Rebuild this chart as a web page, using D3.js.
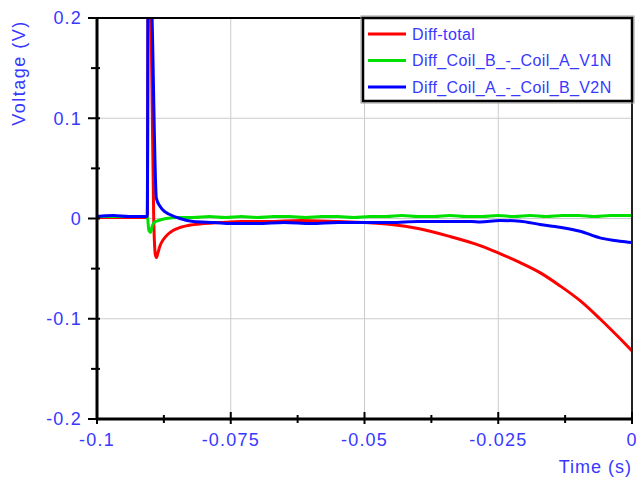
<!DOCTYPE html>
<html>
<head>
<meta charset="utf-8">
<script src="https://cdn.jsdelivr.net/npm/d3@7"></script>
<style>
  body { margin: 0; background: #fff; }
  text { font-family: "Liberation Sans", Arial, sans-serif; fill: #3838ff; }
</style>
</head>
<body>
<div id="chart"></div>
<script>
// Series: [time (s), voltage (V)]
const seriesNames = ['Diff-total', 'Diff_Coil_B_-_Coil_A_V1N', 'Diff_Coil_A_-_Coil_B_V2N'];
const seriesColors = ['#ff0000', '#00e000', '#0000ff'];

const diffTotal = [
  [-0.1, 0.001], [-0.095, 0.001], [-0.0906, 0.001], [-0.0904, 0.3], [-0.0899, 0.2],
  [-0.0894, 0.0], [-0.0891, -0.036], [-0.0889, -0.039], [-0.0886, -0.034],
  [-0.0882, -0.027], [-0.0876, -0.021], [-0.0868, -0.016], [-0.0858, -0.012],
  [-0.0845, -0.009], [-0.083, -0.007], [-0.080, -0.005], [-0.077, -0.004],
  [-0.073, -0.003], [-0.068, -0.003], [-0.062, -0.002], [-0.055, -0.003],
  [-0.050, -0.004], [-0.045, -0.006], [-0.040, -0.010], [-0.034, -0.018],
  [-0.0284, -0.027], [-0.0247, -0.035], [-0.0209, -0.044],
  [-0.0172, -0.054], [-0.0135, -0.067], [-0.0097, -0.082], [-0.0060, -0.100],
  [-0.0022, -0.120], [0, -0.132]
];

const diffV1N = [
  [-0.1, 0.002], [-0.095, 0.002], [-0.0906, 0.002], [-0.0903, -0.012], [-0.0900, -0.014],
  [-0.0897, -0.008], [-0.0893, -0.004], [-0.0885, -0.002], [-0.087, 0.0],
  [-0.085, 0.001], [-0.082, 0.001], [-0.079, 0.002], [-0.076, 0.001], [-0.073, 0.002],
  [-0.070, 0.001], [-0.067, 0.002], [-0.064, 0.002], [-0.061, 0.001], [-0.058, 0.002],
  [-0.055, 0.002], [-0.052, 0.001], [-0.049, 0.002], [-0.046, 0.002], [-0.043, 0.003],
  [-0.040, 0.002], [-0.037, 0.002], [-0.034, 0.003], [-0.031, 0.002], [-0.028, 0.002],
  [-0.025, 0.003], [-0.022, 0.002], [-0.019, 0.003], [-0.016, 0.002], [-0.013, 0.003],
  [-0.010, 0.003], [-0.007, 0.002], [-0.004, 0.003], [-0.002, 0.003], [0, 0.003]
];

const diffV2N = [
  [-0.1, 0.002], [-0.097, 0.003], [-0.094, 0.002], [-0.0906, 0.002], [-0.0904, 0.35],
  [-0.0897, 0.2], [-0.0889, 0.02], [-0.0882, 0.012], [-0.0874, 0.007],
  [-0.0864, 0.004], [-0.0845, 0.0], [-0.082, -0.003], [-0.078, -0.004],
  [-0.075, -0.005], [-0.070, -0.005], [-0.065, -0.004], [-0.060, -0.005],
  [-0.055, -0.004], [-0.050, -0.004], [-0.045, -0.004], [-0.040, -0.003],
  [-0.035, -0.003], [-0.030, -0.003], [-0.0284, -0.0035], [-0.0247, -0.002],
  [-0.0209, -0.0027], [-0.0172, -0.006], [-0.0135, -0.0087], [-0.0097, -0.0127],
  [-0.0060, -0.0193], [-0.0022, -0.0227], [0, -0.024]
];

const seriesData = [diffTotal, diffV1N, diffV2N];

const xTicks = [-0.1, -0.075, -0.05, -0.025, 0];
const xTickLabels = ['-0.1', '-0.075', '-0.05', '-0.025', '0'];
const yTicks = [-0.2, -0.1, 0, 0.1, 0.2];
const yTickLabels = ['-0.2', '-0.1', '0', '0.1', '0.2'];

const width = 636, height = 481;
const margin = { top: 18, right: 4, bottom: 62, left: 97 };

const x = d3.scaleLinear().domain([-0.1, 0]).range([margin.left, width - margin.right]);
const y = d3.scaleLinear().domain([-0.2, 0.2]).range([height - margin.bottom, margin.top]);

const svg = d3.select('#chart').append('svg')
  .attr('width', width)
  .attr('height', height);

svg.append('clipPath').attr('id', 'plot-clip')
  .append('rect')
  .attr('x', x(-0.1)).attr('y', y(0.2))
  .attr('width', x(0) - x(-0.1)).attr('height', y(-0.2) - y(0.2));

// Grid
const grid = svg.append('g').attr('class', 'grid');
grid.selectAll('line.vx')
  .data(xTicks.slice(1, -1))
  .enter().append('line')
  .attr('x1', d => x(d)).attr('x2', d => x(d))
  .attr('y1', y(0.2)).attr('y2', y(-0.2))
  .attr('stroke', '#cccccc').attr('stroke-width', 1);
grid.selectAll('line.hy')
  .data(yTicks.slice(1, -1))
  .enter().append('line')
  .attr('x1', x(-0.1)).attr('x2', x(0))
  .attr('y1', d => y(d)).attr('y2', d => y(d))
  .attr('stroke', '#cccccc').attr('stroke-width', 1);

// Lines
const line = d3.line()
  .x(d => x(d[0]))
  .y(d => y(d[1]))
  .curve(d3.curveMonotoneX);

const lines = svg.append('g').attr('clip-path', 'url(#plot-clip)');
seriesData.forEach((data, i) => {
  lines.append('path')
    .datum(data)
    .attr('fill', 'none')
    .attr('stroke', seriesColors[i])
    .attr('stroke-width', 3)
    .attr('stroke-linejoin', 'round')
    .attr('d', line);
});

// Frame
svg.append('line')
  .attr('x1', x(-0.1)).attr('x2', x(0))
  .attr('y1', y(0.2)).attr('y2', y(0.2))
  .attr('stroke', '#000').attr('stroke-width', 2);
svg.append('line')
  .attr('x1', x(0)).attr('x2', x(0))
  .attr('y1', y(0.2)).attr('y2', y(-0.2))
  .attr('stroke', '#222').attr('stroke-width', 2);

// Axes (ticks drawn by hand to get the inward/outward split)
const axes = svg.append('g').attr('class', 'axes');
const yMinor = d3.range(-0.2, 0.2001, 0.05);
const xMinor = d3.range(-0.1, 0.0001, 0.0125);

axes.selectAll('line.ytick')
  .data(yMinor)
  .enter().append('line')
  .attr('x1', (d, i) => x(-0.1) - (i % 2 === 0 ? 9 : 6))
  .attr('x2', x(-0.1) + 3)
  .attr('y1', d => y(d)).attr('y2', d => y(d))
  .attr('stroke', '#000').attr('stroke-width', 2);

axes.selectAll('line.xtick')
  .data(xMinor)
  .enter().append('line')
  .attr('x1', d => x(d)).attr('x2', d => x(d))
  .attr('y1', (d, i) => y(-0.2) - (i % 2 === 0 ? 7 : 4))
  .attr('y2', (d, i) => y(-0.2) + (i % 2 === 0 ? 5 : 4))
  .attr('stroke', '#000').attr('stroke-width', 2);

axes.append('line')
  .attr('x1', x(-0.1)).attr('x2', x(-0.1))
  .attr('y1', y(0.2) - 1).attr('y2', y(-0.2) + 1)
  .attr('stroke', '#000').attr('stroke-width', 3);
axes.append('line')
  .attr('x1', x(-0.1) - 1).attr('x2', x(0) + 1)
  .attr('y1', y(-0.2)).attr('y2', y(-0.2))
  .attr('stroke', '#000').attr('stroke-width', 3);

// Tick labels
axes.selectAll('text.ylab')
  .data(yTicks)
  .enter().append('text')
  .attr('x', 82)
  .attr('y', d => y(d))
  .attr('dy', '0.35em')
  .attr('text-anchor', 'end')
  .attr('font-size', 18)
  .attr('letter-spacing', 1.2)
  .text((d, i) => yTickLabels[i]);

axes.selectAll('text.xlab')
  .data(xTicks)
  .enter().append('text')
  .attr('x', d => x(d))
  .attr('y', 440)
  .attr('dy', '0.35em')
  .attr('text-anchor', 'middle')
  .attr('font-size', 18)
  .attr('letter-spacing', 1.2)
  .text((d, i) => xTickLabels[i]);

// Axis titles
svg.append('text')
  .attr('transform', 'translate(19,73) rotate(-90)')
  .attr('dy', '0.35em')
  .attr('text-anchor', 'middle')
  .attr('font-size', 18)
  .attr('letter-spacing', 1.5)
  .text('Voltage (V)');

svg.append('text')
  .attr('x', 632)
  .attr('y', 467)
  .attr('dy', '0.35em')
  .attr('text-anchor', 'end')
  .attr('font-size', 18)
  .attr('letter-spacing', 1)
  .text('Time (s)');

// Legend
const legend = svg.append('g').attr('class', 'legend');
legend.append('rect')
  .attr('x', 361).attr('y', 16)
  .attr('width', 273).attr('height', 87)
  .attr('fill', 'none').attr('stroke', '#999').attr('stroke-width', 1);
legend.append('rect')
  .attr('x', 363).attr('y', 18)
  .attr('width', 269).attr('height', 83)
  .attr('fill', '#fff').attr('stroke', '#000').attr('stroke-width', 2.5);

const rows = legend.selectAll('g.row')
  .data(seriesNames)
  .enter().append('g')
  .attr('transform', (d, i) => `translate(0,${34 + i * 26.5})`);
rows.append('line')
  .attr('x1', 368).attr('x2', 406)
  .attr('y1', 0).attr('y2', 0)
  .attr('stroke', (d, i) => seriesColors[i])
  .attr('stroke-width', 3);
rows.append('text')
  .attr('x', 412)
  .attr('y', 0)
  .attr('dy', '0.35em')
  .attr('font-size', 16)
  .attr('letter-spacing', 0.4)
  .text(d => d);
</script>
</body>
</html>
